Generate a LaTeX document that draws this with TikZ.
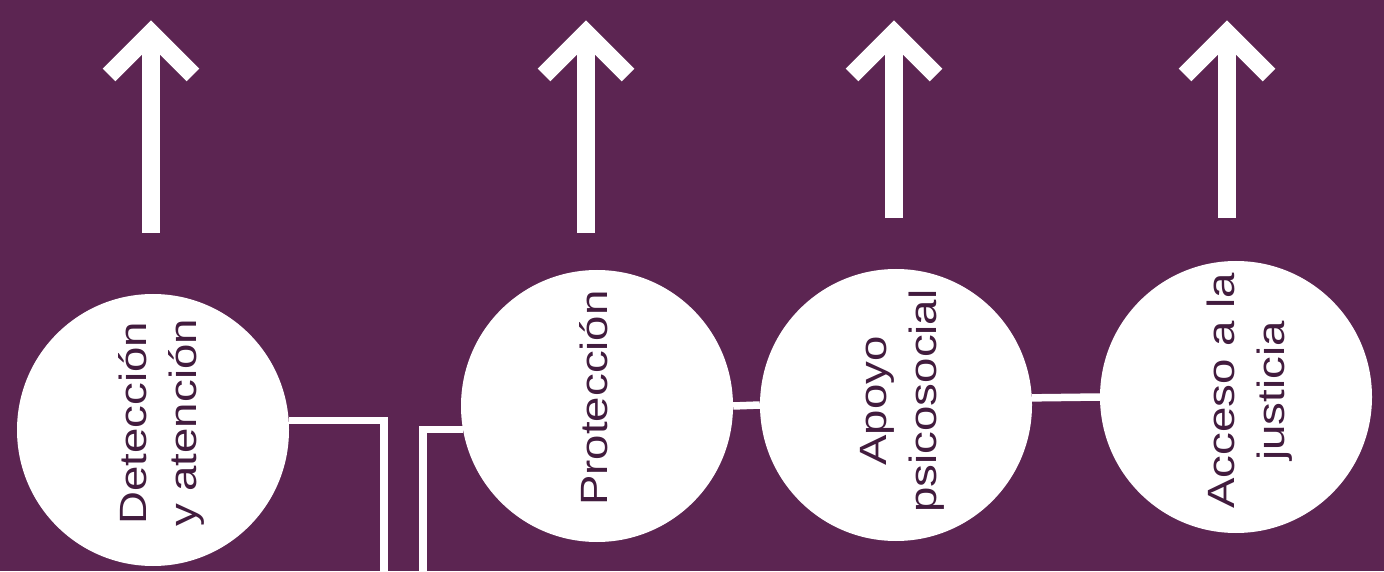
\documentclass[tikz,border=0pt]{standalone}
\usepackage{fontspec}
\newfontfamily\stagefont[FakeStretch=1.2]{Liberation Sans}
\usetikzlibrary{calc}
\definecolor{plum}{RGB}{92,37,82}
\definecolor{plumtext}{RGB}{66,28,62}

\begin{document}
\begin{tikzpicture}[x=1pt,y=1pt,
    stage/.style={circle,fill=white,minimum size=272pt,inner sep=0pt},
    stagetext/.style={rotate=90,align=center,text=plumtext,
      font=\stagefont\fontsize{38}{50}\selectfont},
    link/.style={draw=white,line width=7.5pt},
    uparrow/.style={draw=white,line width=18pt,miter limit=10}]

    \coordinate (width)  at (1384,0);
    \coordinate (height) at (0,571);

    \fill[plum] (0,0) rectangle (width |- height);
    \useasboundingbox (0,0) rectangle (width |- height);

    % arrows on top
    \foreach \x/\b in {151/338, 586/338, 894/353, 1227/353} {
      \draw[uparrow] (\x,\b) -- (\x,538);
      \draw[uparrow] (\x-42,496) -- (\x,538) -- (\x+42,496);
    }

    % stages
    \node[stage] (det)    at (153,141) {};
    \node[stage] (prot)   at (597,165) {};
    \node[stage] (apoyo)  at (896,166) {};
    \node[stage] (acceso) at (1236,174) {};

    \node[stagetext] (det text)    at ($(det)+(8,7)$)     {Detección\\y atención};
    \node[stagetext] (prot text)   at ($(prot)+(-3,8)$)   {Protección};
    \node[stagetext] (apoyo text)  at ($(apoyo)+(6,4)$)   {Apoyo\\psicosocial};
    \node[stagetext] (acceso text) at ($(acceso)+(14,6)$) {Acceso a la\\justicia};

    % links
    \coordinate (det out) at (384,0);
    \coordinate (prot in) at (423,0);

    \draw[link] (det.4) -| (det out);
    \draw[link] (prot in) |- (prot.190);
    \draw[link] (prot.east) -- (apoyo.west);
    \draw[link] (apoyo.3.5) -- (acceso.west);
\end{tikzpicture}
\end{document}
